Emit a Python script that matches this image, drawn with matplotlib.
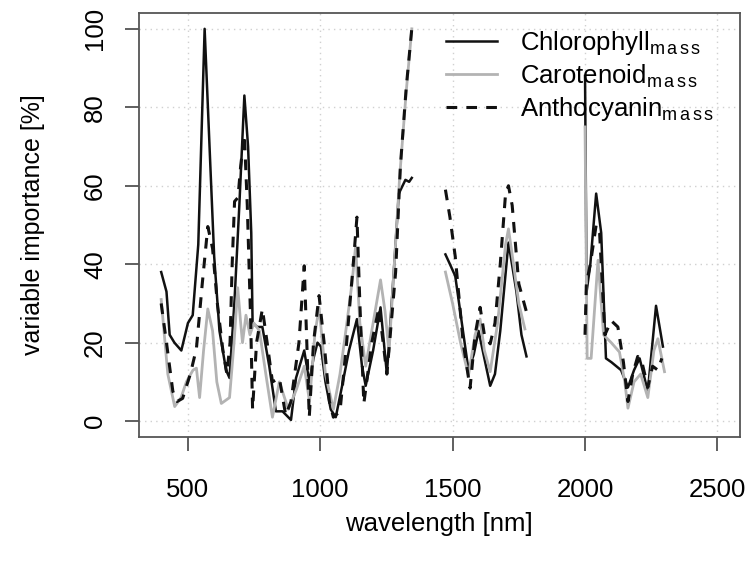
import numpy as np
import matplotlib.pyplot as plt

plt.rcParams.update(
    {
        "font.family": ["Liberation Sans", "DejaVu Sans"],
        "mathtext.fontset": "custom",
        "mathtext.rm": "Liberation Sans",
        "mathtext.it": "Liberation Sans",
    }
)

NAN = np.nan

# -- Data (NaN breaks the water-absorption gaps) --
chl_wl = [400, 420, 432, 450, 476, 501, 519, 540, 564, 585, 600, 620, 645, 658, 677,
          695, 714, 728, 740, 745, 763, 782, 808, 833, 858, 890, 909, 940, 959, 975,
          990, 1003, 1020, 1040, 1059, 1080, 1109, 1139, 1158, 1172, 1200, 1228, 1252,
          1275, 1297, 1322, 1336, 1346, NAN,
          1473, 1490, 1510, 1535, 1560, 1580, 1598, 1620, 1642, 1660, 1680, 1711, 1741,
          1760, 1779, NAN,
          2000, 2006, 2020, 2042, 2061, 2079, 2100, 2136, 2162, 2185, 2206, 2237, 2268,
          2294]
chl_val = [38, 33, 22, 20, 18, 25, 27, 45, 100, 66, 42, 23, 13, 11, 31,
           55, 83, 70, 48, 25, 24, 24, 14, 2.5, 2.5, 0.3, 11, 18, 10, 16,
           20, 19, 10, 3, 1, 8, 18, 26, 14, 9, 18, 29, 12,
           35, 58, 61.5, 61, 62, NAN,
           42.5, 40, 37, 25, 13, 17, 23, 16, 9, 12, 23, 45.5, 33,
           22, 16.5, NAN,
           88, 33, 40, 58, 48, 16, 15, 13, 8.6, 13, 16, 7.6, 29.4,
           19]

car_wl = [400, 425, 451, 475, 495, 520, 533, 545, 560, 576, 594, 610, 627, 658, 675,
          689, 700, 707, 720, 735, 750, 771, 795, 820, 846, 880, 910, 940, 960, 980,
          996, 1020, 1050, 1075, 1097, 1120, 1134, 1150, 1172, 1200, 1228, 1245, 1260,
          1280, 1300, 1325, 1346, NAN,
          1473, 1500, 1530, 1560, 1585, 1604, 1620, 1642, 1670, 1700, 1711, 1730, 1750,
          1773, NAN,
          2000, 2008, 2023, 2049, 2070, 2099, 2130, 2150, 2162, 2185, 2210, 2237, 2260,
          2275, 2300]
car_val = [31, 12, 3.7, 6, 10, 13, 13.5, 6, 18, 28.6, 23, 10, 4.5, 6, 20,
           34, 25, 20, 27, 22, 25, 23, 12, 1, 10, 3, 8, 14, 5, 22,
           29, 12, 3, 12, 23, 35, 44.6, 25, 14, 25, 36, 28, 17.6,
           40, 62, 84, 100, NAN,
           38, 30, 20, 11.7, 22, 26, 18, 12.6, 25, 45, 49, 40, 30,
           23.5, NAN,
           75, 16, 16, 41, 22, 20, 17.6, 10, 3.3, 10, 12, 6, 18,
           21, 12.6]

ant_wl = [400, 420, 444, 460, 481, 510, 533, 555, 576, 594, 612, 632, 648, 660, 668,
          677, 690, 700, 714, 725, 738, 745, 760, 782, 800, 820, 846, 870, 890, 920,
          940, 959, 975, 996, 1015, 1035, 1050, 1075, 1100, 1125, 1139, 1150, 1165,
          1195, 1222, 1252, 1285, 1303, 1325, 1346, NAN,
          1473, 1490, 1510, 1540, 1566, 1585, 1604, 1620, 1642, 1660, 1680, 1700, 1711,
          1725, 1750, 1779, NAN,
          2000, 2005, 2020, 2042, 2055, 2075, 2099, 2124, 2145, 2162, 2180, 2199, 2215,
          2237, 2255, 2275, 2290]
ant_val = [30, 20, 7.6, 5, 5.8, 12, 18.5, 35, 49.6, 44, 30, 18.5, 12, 20, 40,
           56, 57, 65, 73, 55, 25, 3, 20, 28.6, 20, 10, 11, 1.5, 5, 20,
           39.6, 1, 20, 32, 20, 5, 1, 2.5, 20, 40, 52, 30, 4.5,
           20, 29, 12, 38, 65, 85, 100, NAN,
           59, 52, 42, 20, 8.4, 22, 29, 22, 19.7, 25, 40, 58, 60,
           55, 35, 27.8, NAN,
           22, 35, 40, 50, 48, 22, 25.6, 24, 15, 5, 12, 16.5, 15,
           8.6, 14, 13, 16]

x_ticks = [500, 1000, 1500, 2000, 2500]
y_ticks = [0, 20, 40, 60, 80, 100]

fig = plt.figure(figsize=(7.51, 5.71), dpi=100)
ax = fig.add_axes([0.185, 0.235, 0.800, 0.742])

ax.grid(True, color="#d0d0d0", linestyle=(0, (1, 3)), linewidth=1.0)
ax.set_axisbelow(True)

sub = r"$_{\mathrm{m\,a\,s\,s}}$"
ax.plot(chl_wl, chl_val, color="#111111", lw=1.8, label="Chlorophyll" + sub)
ax.plot(car_wl, car_val, color="#b3b3b3", lw=2.0, label="Carotenoid" + sub)
ax.plot(ant_wl, ant_val, color="#111111", lw=2.2, linestyle=(0, (3.5, 3)),
        label="Anthocyanin" + sub)

ax.set_xlim(316, 2584)
ax.set_ylim(-4, 104)
ax.set_xticks(x_ticks)
ax.set_yticks(y_ticks)
ax.tick_params(labelsize=18.5, length=10, width=1.2, color="#444444")
ax.tick_params(axis="x", pad=20)
ax.tick_params(axis="y", pad=13)
for lab in ax.get_yticklabels():
    lab.set_rotation(90)
    lab.set_va("center")
for s in ax.spines.values():
    s.set_color("#555555")
    s.set_linewidth(1.3)

ax.set_xlabel("wavelength [nm]", fontsize=18.5, labelpad=7)
ax.set_ylabel("variable importance [%]", fontsize=18, labelpad=27)

ax.legend(loc="upper left", bbox_to_anchor=(0.511, 0.962), frameon=False,
          fontsize=18.5, handlelength=2.0, handletextpad=0.9,
          labelspacing=0.2, borderaxespad=0, borderpad=0)

fig.savefig("out.png", dpi=100)
